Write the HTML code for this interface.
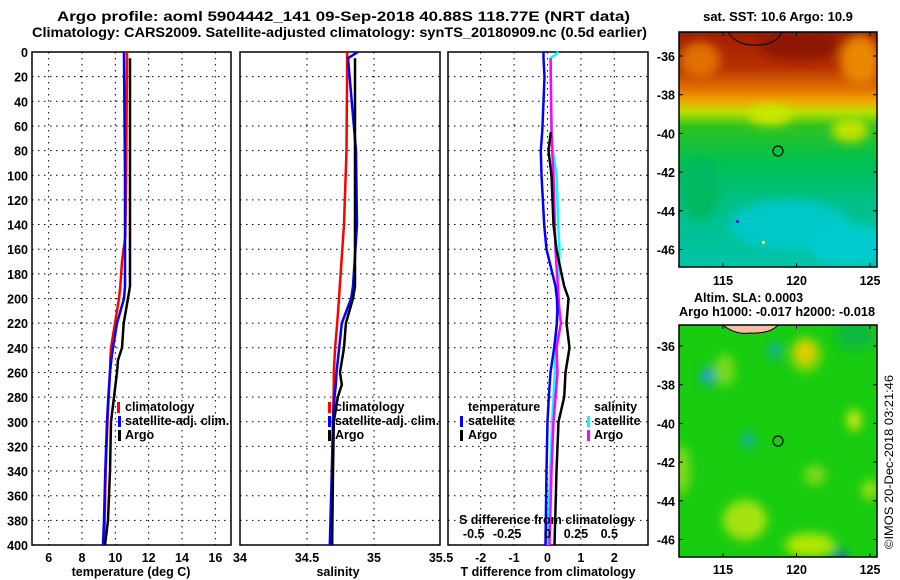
<!DOCTYPE html>
<html><head><meta charset="utf-8">
<style>
html,body{margin:0;padding:0;background:#fff;}
svg{display:block;font-family:"Liberation Sans",Arial,sans-serif;font-weight:bold;}
text{fill:#000;}
</style></head>
<body>
<svg id="fig" width="900" height="580" viewBox="0 0 900 580" xmlns="http://www.w3.org/2000/svg">
<defs>
<linearGradient id="sstGrad" x1="0" y1="0" x2="0" y2="1">
<stop offset="0" stop-color="#a01c00"/><stop offset="0.15" stop-color="#b83000"/>
<stop offset="0.24" stop-color="#e07000"/><stop offset="0.29" stop-color="#f0a400"/>
<stop offset="0.34" stop-color="#b8e000"/><stop offset="0.40" stop-color="#30c420"/>
<stop offset="0.55" stop-color="#00c050"/><stop offset="0.72" stop-color="#00c088"/>
<stop offset="1" stop-color="#00c4a8"/>
</linearGradient>
<filter id="blur" x="-50%" y="-50%" width="200%" height="200%"><feGaussianBlur stdDeviation="5"/></filter>
<clipPath id="clipTop"><rect x="679" y="32" width="198" height="235"/></clipPath>
<clipPath id="clipBot"><rect x="679" y="325" width="198" height="232"/></clipPath>
</defs>

<text x="57" y="21" font-size="13.5" textLength="573" lengthAdjust="spacingAndGlyphs">Argo profile: aoml 5904442_141 09-Sep-2018 40.88S 118.77E (NRT data)</text>
<text x="32" y="37" font-size="13.5" textLength="615" lengthAdjust="spacingAndGlyphs">Climatology: CARS2009. Satellite-adjusted climatology: synTS_20180909.nc (0.5d earlier)</text>

<g id="panels"></g>

<!-- SST map -->
<g>
<text x="778" y="21" font-size="13" text-anchor="middle">sat. SST: 10.6 Argo: 10.9</text>
<g clip-path="url(#clipTop)">
<rect x="679" y="32" width="198" height="235" fill="url(#sstGrad)"/>
<g filter="url(#blur)">
<ellipse cx="700" cy="60" rx="20" ry="18" fill="#e07000"/>
<ellipse cx="860" cy="60" rx="20" ry="25" fill="#e88800"/>
<ellipse cx="800" cy="45" rx="40" ry="15" fill="#8c1400"/>
<ellipse cx="770" cy="115" rx="22" ry="10" fill="#c8e800"/>
<ellipse cx="850" cy="130" rx="18" ry="12" fill="#c0e400"/>
<ellipse cx="790" cy="225" rx="60" ry="25" fill="#00c8c8"/>
<ellipse cx="850" cy="245" rx="40" ry="20" fill="#00ccd0"/>
<ellipse cx="700" cy="190" rx="20" ry="30" fill="#00b860"/>
</g>
<rect x="762" y="241" width="3" height="3" fill="#f0f000"/>
<rect x="736" y="220" width="3" height="3" fill="#0040c0"/>
<path d="M728 32 Q735 44 752 45 Q770 46 778 38 L782 32" fill="none" stroke="#000" stroke-width="1"/>
</g>
<rect x="679" y="32" width="198" height="235" fill="none" stroke="#000" stroke-width="1.5"/>
<circle cx="778" cy="151" r="5" fill="none" stroke="#000" stroke-width="1.2"/>
<g id="sstAxes"></g>
</g>

<!-- SLA map -->
<g>
<text x="694" y="302" font-size="12.5">Altim. SLA: 0.0003</text>
<text x="679" y="316" font-size="12.5" textLength="196" lengthAdjust="spacingAndGlyphs">Argo h1000: -0.017 h2000: -0.018</text>
<g clip-path="url(#clipBot)">
<rect x="679" y="325" width="198" height="232" fill="#18cc10"/>
<g filter="url(#blur)">
<ellipse cx="805" cy="352" rx="11" ry="13" fill="#f0b000"/>
<ellipse cx="806" cy="355" rx="16" ry="18" fill="#d0e800" opacity="0.5"/>
<ellipse cx="708" cy="376" rx="7" ry="9" fill="#20a0d0"/>
<ellipse cx="775" cy="350" rx="6" ry="9" fill="#10b0a0"/>
<ellipse cx="725" cy="370" rx="10" ry="16" fill="#a0e020" opacity="0.7"/>
<ellipse cx="854" cy="420" rx="7" ry="11" fill="#d0e810"/>
<ellipse cx="748" cy="440" rx="6" ry="9" fill="#10b0a0"/>
<ellipse cx="745" cy="520" rx="22" ry="20" fill="#c8e810" opacity="0.8"/>
<ellipse cx="810" cy="545" rx="25" ry="12" fill="#d8ec00" opacity="0.8"/>
<ellipse cx="682" cy="470" rx="8" ry="25" fill="#b0e020" opacity="0.7"/>
<ellipse cx="815" cy="475" rx="11" ry="10" fill="#a8e020" opacity="0.7"/>
<ellipse cx="870" cy="490" rx="8" ry="10" fill="#c0e410" opacity="0.8"/>
<ellipse cx="840" cy="556" rx="6" ry="6" fill="#0060e0"/>
<ellipse cx="855" cy="335" rx="20" ry="15" fill="#10b840"/>
</g>
<path d="M723 325 Q735 335 750 333 Q770 334 778 325" fill="#f0c0a0" stroke="#000" stroke-width="1"/>
</g>
<rect x="679" y="325" width="198" height="232" fill="none" stroke="#000" stroke-width="1.5"/>
<circle cx="778" cy="441" r="5" fill="none" stroke="#000" stroke-width="1.2"/>
<g id="slaAxes"></g>
</g>

<text transform="translate(893,549) rotate(-90)" font-size="12" font-weight="normal" textLength="174" lengthAdjust="spacingAndGlyphs">©IMOS 20-Dec-2018 03:21:46</text>
</svg>

<script>
// ---------- data ----------
const tempDepth = [0,5,100,150,170,190,200,220,240,250,260,280,300,340,380,400];
const tempArgo  = [null,10.88,10.88,10.88,10.88,10.88,10.76,10.5,10.4,10.16,10.1,9.92,9.74,9.68,9.56,9.38];
const tempClim  = [10.7,10.7,10.65,10.6,10.4,10.3,10.22,9.98,9.74,9.7,9.68,9.6,9.53,9.42,9.36,9.32];
const tempSat   = [10.52,10.52,10.58,10.58,10.58,10.58,10.52,10.1,9.86,9.76,9.68,9.58,9.5,9.4,9.32,9.26];

const salDepth = [0,5,80,140,190,200,220,240,260,270,280,300,340,400];
const salArgo  = [null,34.858,34.858,34.858,34.858,34.843,34.79,34.776,34.746,34.76,34.73,34.70,34.694,34.687];
const salClim  = [34.80,34.80,34.795,34.776,34.745,34.739,34.725,34.71,34.70,34.70,34.698,34.694,34.69,34.687];
const salSat   = [34.88,34.806,34.866,34.873,34.843,34.83,34.76,34.74,34.72,34.715,34.705,34.694,34.685,34.67];

const diffDepth = [0,5,20,60,65,80,100,140,160,180,190,200,210,220,240,260,280,300,340,400];
const dTSat  = [-0.12,-0.12,-0.09,-0.15,-0.16,-0.2,-0.18,-0.1,-0.03,0.15,0.24,0.28,0.3,0.28,0.2,0.09,0.04,0.0,-0.03,-0.06];
const dTArgo = [null,null,null,null,0.1,0.03,0.12,0.18,0.27,0.42,0.5,0.63,0.6,0.57,0.66,0.54,0.5,0.33,0.27,0.21];
const dSSat  = [0.083,0.023,0.023,0.03,0.03,0.04,0.068,0.08,0.09,0.085,0.08,0.075,0.07,0.068,0.06,0.055,0.045,0.035,0.02,0.0];
const dSArgo = [null,0.023,0.025,0.03,0.03,0.035,0.045,0.055,0.06,0.07,0.078,0.083,0.09,0.1,0.068,0.075,0.06,0.045,0.03,0.015];

const depthTicks = [0,20,40,60,80,100,120,140,160,180,200,220,240,260,280,300,320,340,360,380,400];
const tempTicks = [6,8,10,12,14,16];
const salTicks = [34,34.5,35,35.5];
const diffTicks = [-2,-1,0,1,2];
const sDiffTicks = ["-0.5","-0.25","0","0.25","0.5"];
const latTicks = [-36,-38,-40,-42,-44,-46];
const lonTicks = [115,120,125];

// ---------- scales ----------
const NS = "http://www.w3.org/2000/svg";
const yTop = 52, yBot = 545;
const yD = d => yTop + d * (yBot - yTop) / 400;
const xT = t => 32 + (t - 5) * 200 / 12;
const xS = s => 240 + (s - 34) * 134;
const xDT = d => 547.5 + d * 33.4;
const xDS = d => 547.5 + d * 133.6;
const lonX = l => 723 + (l - 115) * 14.7;
const latYTop = la => 56 + (-36 - la) * 19.35;
const latYBot = la => 346 + (-36 - la) * 19.35;

function mk(tag, attrs, parent) {
  const e = document.createElementNS(NS, tag);
  for (const k in attrs) e.setAttribute(k, attrs[k]);
  parent.appendChild(e);
  return e;
}
const panels = document.getElementById('panels');

function panel(name, x0, x1, xTicks, xFn, tickLabels) {
  const g = mk('g', {}, panels);
  
  
  depthTicks.forEach(d => {
    const l = mk('line', {x1: x0, x2: x1, y1: yD(d), y2: yD(d), stroke: '#000', 'stroke-width': 1, 'stroke-dasharray': '1.5,4.5'}, g);
    
    
  });
  xTicks.forEach((t, i) => {
    const x = xFn(t);
    if (x > x0 + 2 && x < x1 - 2) {
      const l = mk('line', {x1: x, x2: x, y1: yTop, y2: yBot, stroke: '#000', 'stroke-width': 1, 'stroke-dasharray': '1.5,4.5'}, g);
      
      
    }
    if (tickLabels) {
      const tx = mk('text', {x: x, y: 562, 'font-size': 12.5, 'text-anchor': 'middle'}, g);
      tx.textContent = tickLabels[i];
      
      
    }
  });
  const r = mk('rect', {x: x0, y: yTop, width: x1 - x0, height: yBot - yTop, fill: 'none', stroke: '#000', 'stroke-width': 1.5}, g);
  
  
  return g;
}

function line(g, depths, vals, xFn, color, name) {
  let pts = [];
  depths.forEach((d, i) => { if (vals[i] !== null) pts.push(xFn(vals[i]).toFixed(1) + ',' + yD(d).toFixed(1)); });
  const p = mk('polyline', {points: pts.join(' '), fill: 'none', stroke: color, 'stroke-width': 2.5, 'stroke-linejoin': 'miter'}, g);
  
  
}

function txt(g, x, y, s, name, size, anchor) {
  const t = mk('text', {x: x, y: y, 'font-size': size || 12.5, 'text-anchor': anchor || 'start'}, g);
  t.textContent = s;
  
  
  return t;
}
function mark(g, x, y, color, name) {
  const r = mk('rect', {x: x, y: y - 10, width: 3, height: 11, fill: color}, g);
  
  
}

// depth labels
const yax = mk('g', {}, panels);


depthTicks.forEach(d => txt(yax, 28, yD(d) + 5, String(d), 'depth-tick-label', 12.5, 'end'));

// panel 1 temperature
const p1 = panel('temperature-panel', 32, 231, tempTicks, xT, tempTicks.map(String));
line(p1, tempDepth, tempClim, xT, '#ff0000', 'temp-climatology-line');
line(p1, tempDepth, tempSat, xT, '#0000ff', 'temp-satellite-line');
line(p1, tempDepth, tempArgo, xT, '#000000', 'temp-argo-line');
txt(p1, 131, 576, 'temperature (deg C)', 'temperature-axis-title', 12.5, 'middle');
mark(p1, 117, 412, '#ff0000', 'legend-climatology-marker');
txt(p1, 125, 411, 'climatology', 'legend-climatology');
mark(p1, 118, 426, '#0000ff', 'legend-satellite-marker');
txt(p1, 125, 425, 'satellite-adj. clim.', 'legend-satellite');
mark(p1, 118, 440, '#000000', 'legend-argo-marker');
txt(p1, 125, 439, 'Argo', 'legend-argo');

// panel 2 salinity
const p2 = panel('salinity-panel', 240, 440, salTicks, xS, salTicks.map(String));
line(p2, salDepth, salClim, xS, '#ff0000', 'sal-climatology-line');
line(p2, salDepth, salSat, xS, '#0000ff', 'sal-satellite-line');
line(p2, salDepth, salArgo, xS, '#000000', 'sal-argo-line');
txt(p2, 338, 576, 'salinity', 'salinity-axis-title', 12.5, 'middle');
mark(p2, 328, 412, '#ff0000', 'legend-climatology-marker');
txt(p2, 335, 411, 'climatology', 'legend-climatology');
mark(p2, 328, 426, '#0000ff', 'legend-satellite-marker');
txt(p2, 335, 425, 'satellite-adj. clim.', 'legend-satellite');
mark(p2, 328, 440, '#000000', 'legend-argo-marker');
txt(p2, 335, 439, 'Argo', 'legend-argo');

// panel 3 differences
const p3 = panel('difference-panel', 448, 648, diffTicks, xDT, diffTicks.map(String));
line(p3, diffDepth, dSSat, xDS, '#00ffff', 'sdiff-satellite-line');
line(p3, diffDepth, dSArgo, xDS, '#ff00ff', 'sdiff-argo-line');
line(p3, diffDepth, dTSat, xDT, '#0000ff', 'tdiff-satellite-line');
line(p3, diffDepth, dTArgo, xDT, '#000000', 'tdiff-argo-line');
txt(p3, 548, 576, 'T difference from climatology', 'tdiff-axis-title', 12.5, 'middle');
txt(p3, 468, 411, 'temperature', 'legend-temperature-heading');
mark(p3, 460, 426, '#0000ff', 'legend-tsat-marker');
txt(p3, 468, 425, 'satellite', 'legend-tsat');
mark(p3, 460, 440, '#000000', 'legend-targo-marker');
txt(p3, 468, 439, 'Argo', 'legend-targo');
txt(p3, 594, 411, 'salinity', 'legend-salinity-heading');
mark(p3, 587, 426, '#00ffff', 'legend-ssat-marker');
txt(p3, 594, 425, 'satellite', 'legend-ssat');
mark(p3, 587, 440, '#ff00ff', 'legend-sargo-marker');
txt(p3, 594, 439, 'Argo', 'legend-sargo');
txt(p3, 459, 524, 'S difference from climatology', 'sdiff-axis-title');
[-0.5,-0.25,0,0.25,0.5].forEach((v, i) => txt(p3, xDS(v) - (v < 0 ? 7 : (v > 0 ? 5 : 0)), 538, sDiffTicks[i], 'sdiff-tick-label', 12.5, 'middle'));

// map axes
function mapAxes(id, latFn, yB, yT, labelY) {
  const g = document.getElementById(id);
  latTicks.forEach(la => {
    const y = latFn(la);
    mk('line', {x1: 679, x2: 683, y1: y, y2: y, stroke: '#000'}, g);
    mk('line', {x1: 873, x2: 877, y1: y, y2: y, stroke: '#000'}, g);
    txt(g, 675, y + 5, String(la), 'lat-tick-label', 12.5, 'end');
  });
  lonTicks.forEach(lo => {
    const x = lonX(lo);
    mk('line', {x1: x, x2: x, y1: yB - 4, y2: yB, stroke: '#000'}, g);
    mk('line', {x1: x, x2: x, y1: yT, y2: yT + 4, stroke: '#000'}, g);
    txt(g, x, labelY, String(lo), 'lon-tick-label', 12.5, 'middle');
  });
}
mapAxes('sstAxes', latYTop, 267, 32, 285);
mapAxes('slaAxes', latYBot, 557, 325, 574);
</script>
</body></html>
